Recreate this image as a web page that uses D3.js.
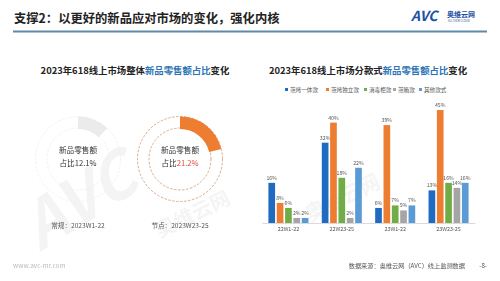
<!DOCTYPE html>
<html>
<head>
<meta charset="utf-8">
<script src="https://cdn.jsdelivr.net/npm/d3@7"></script>
<style>
  body { margin: 0; background: #fff; }
  svg { display: block; font-family: "Noto Sans CJK SC", "Noto Sans", sans-serif; }
</style>
</head>
<body>
<svg id="chart" width="500" height="281"></svg>
<script>
// donut data (left chart)
var periods = ["常规：2023W1-22", "节点：2023W23-25"];
var shares = [12.1, 21.2];

// grouped bars (right chart)
var groups = ["22W1-22", "22W23-25", "23W1-22", "23W23-25"];
var series = ["蒸烤一体款", "蒸烤独立款", "消毒柜款", "蒸箱款", "其他款式"];
var values = [
    [16, 8, 6, 2, 2],
    [32, 40, 18, 2, 22],
    [6, 39, 7, 5, 7],
    [13, 45, 16, 14, 16]
];
var colors = ["#1f6bc1", "#ed7d31", "#70ad47", "#a5a5a5", "#5b9bd5"];

var svg = d3.select("#chart");

// faint watermark
var wm = svg.append("g").style("opacity", 0.045);
wm.append("text")
    .attr("transform", "translate(40,252) rotate(-32)")
    .attr("font-size", 64).attr("font-weight", "bold").attr("font-style", "italic")
    .attr("fill", "#000").text("AVC");
wm.append("text")
    .attr("transform", "translate(160,238) rotate(-26)")
    .attr("font-size", 20).attr("font-weight", "bold")
    .attr("fill", "#000").text("奥维云网");
wm.append("text")
    .attr("transform", "translate(310,222) rotate(-26)")
    .attr("font-size", 20).attr("font-weight", "bold")
    .attr("fill", "#000").text("奥维云网");

// header
svg.append("text")
    .attr("x", 14).attr("y", 23)
    .attr("font-size", 12.3).attr("font-weight", "bold").attr("fill", "#222")
    .text("支撑2：以更好的新品应对市场的变化，强化内核");
svg.append("line")
    .attr("x1", 13).attr("x2", 487).attr("y1", 31.5).attr("y2", 31.5)
    .attr("stroke", "#5f8aa8").attr("stroke-width", 2);

// logo
svg.append("text").attr("x", 411).attr("y", 21)
    .attr("font-size", 14).attr("font-weight", "bold").attr("font-style", "italic")
    .attr("fill", "#1d4fa2").text("AVC");
svg.append("text").attr("x", 447).attr("y", 16.5)
    .attr("font-size", 7).attr("font-weight", "bold")
    .attr("fill", "#1d4fa2").text("奥维云网");
svg.append("text").attr("x", 448).attr("y", 22)
    .attr("font-size", 2.8).attr("fill", "#1d4fa2").text("ALL VIEW CLOUD");

// titles
function title(x, y, pre, blue, post) {
    var t = svg.append("text").attr("x", x).attr("y", y)
        .attr("text-anchor", "middle")
        .attr("font-size", 9.4).attr("font-weight", "bold").attr("fill", "#222");
    t.append("tspan").text(pre);
    t.append("tspan").attr("fill", "#2e75b6").text(blue);
    t.append("tspan").text(post);
}
title(135, 73.5, "2023年618线上市场整体", "新品零售额占比", "变化");
title(368, 73.5, "2023年618线上市场分款式", "新品零售额占比", "变化");

// ---------- donuts ----------
var cx = d3.scaleOrdinal().domain(periods).range([78, 180]);
var cy = 159, rOut = 42.5, rIn = 30;
var ringFill = ["#ebebeb", "#ed7d31"];
var ringLine = ["#efefef", "#d9a27c"];

periods.forEach(function (p, i) {
    var g = svg.append("g").attr("transform", "translate(" + cx(p) + "," + cy + ")");
    [rOut, rIn + 1].forEach(function (r) {
        g.append("circle").attr("r", r)
            .attr("fill", "none")
            .attr("stroke", ringLine[i])
            .attr("stroke-width", 0.9)
            .attr("stroke-dasharray", "2.5,1.5");
    });
    var arc = d3.arc().innerRadius(rIn).outerRadius(rOut)
        .startAngle(0).endAngle(shares[i] / 100 * 2 * Math.PI);
    g.append("path").attr("d", arc()).attr("fill", ringFill[i]);

    g.append("text").attr("y", -6).attr("text-anchor", "middle")
        .attr("font-size", 7.6).attr("fill", "#333").text("新品零售额");
    var t = g.append("text").attr("y", 7).attr("text-anchor", "middle")
        .attr("font-size", 7.6).attr("fill", "#333");
    t.append("tspan").text("占比");
    t.append("tspan").attr("fill", i === 1 ? "#e0473c" : "#333").text(shares[i] + "%");

    svg.append("text").attr("x", cx(p)).attr("y", 227.5)
        .attr("text-anchor", "middle")
        .attr("font-size", 6.6).attr("fill", "#555").text(p);
});

// ---------- grouped bars ----------
var x0 = d3.scaleBand().domain(groups).range([262, 475]).paddingInner(0.25).paddingOuter(0.12);
var x1 = d3.scaleBand().domain(series).range([0, x0.bandwidth()]).paddingInner(0.2);
var y = d3.scaleLinear().domain([0, 50]).range([223, 97.5]);

// legend
var legendX = [285, 326, 364, 393, 419];
series.forEach(function (s, i) {
    var lg = svg.append("g").attr("transform", "translate(" + legendX[i] + ",90)");
    lg.append("rect").attr("x", 0).attr("y", -2).attr("width", 3).attr("height", 3).attr("fill", colors[i]);
    lg.append("text").attr("x", 5).attr("y", 1.9)
        .attr("font-size", 5.6).attr("fill", "#555").text(s);
});

var gg = svg.selectAll(".grp")
    .data(values)
    .enter()
    .append("g")
    .attr("class", "grp")
    .attr("transform", function (d, i) { return "translate(" + x0(groups[i]) + ",0)"; });

gg.selectAll("rect")
    .data(function (d) { return d; })
    .enter()
    .append("rect")
    .attr("x", function (d, j) { return x1(series[j]); })
    .attr("y", function (d) { return y(d); })
    .attr("width", x1.bandwidth())
    .attr("height", function (d) { return y(0) - y(d); })
    .attr("fill", function (d, j) { return colors[j]; });

gg.selectAll("text")
    .data(function (d) { return d; })
    .enter()
    .append("text")
    .attr("x", function (d, j) { return x1(series[j]) + x1.bandwidth() / 2; })
    .attr("y", function (d) { return y(d) - 3; })
    .attr("text-anchor", "middle")
    .attr("font-size", 5.2).attr("fill", "#555")
    .text(function (d) { return d + "%"; });

var xAxis = svg.append("g")
    .attr("transform", "translate(0," + y(0) + ")")
    .call(d3.axisBottom(x0).tickSize(0).tickPadding(4));
xAxis.select(".domain").attr("stroke", "#d0d0d0").attr("stroke-width", 0.8);
xAxis.selectAll("text").attr("font-size", 5.4).attr("fill", "#555")
    .attr("font-family", "Noto Sans CJK SC");

// footer
svg.append("text").attr("x", 13).attr("y", 268)
    .attr("font-size", 6.5).attr("fill", "#bbb").text("www.avc-mr.com");
svg.append("text").attr("x", 465).attr("y", 268)
    .attr("text-anchor", "end")
    .attr("font-size", 6.2).attr("fill", "#555").text("数据来源：奥维云网（AVC）线上监测数据");
svg.append("text").attr("x", 487).attr("y", 268)
    .attr("text-anchor", "end")
    .attr("font-size", 6.2).attr("fill", "#555").text("-8-");
</script>
</body>
</html>
